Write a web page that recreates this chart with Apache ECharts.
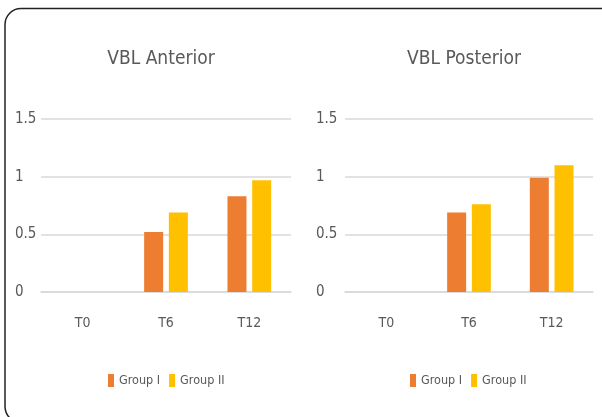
<!DOCTYPE html>
<html>
<head>
<meta charset="utf-8">
<script src="https://cdn.jsdelivr.net/npm/echarts@6/dist/echarts.min.js"></script>
<style>
html,body{margin:0;padding:0;background:#fff;overflow:hidden;}
#chart{width:602px;height:417px;}
</style>
</head>
<body>
<div id="chart"></div>
<script>
const categories = ['T0', 'T6', 'T12'];
const seriesNames = ['Group I', 'Group II'];
const anteriorGroupI = [0, 0.52, 0.83];
const anteriorGroupII = [0, 0.69, 0.97];
const posteriorGroupI = [0, 0.69, 0.99];
const posteriorGroupII = [0, 0.76, 1.10];
const chartTitles = ['VBL Anterior', 'VBL Posterior'];
const yMin = 0, yMax = 1.5, yStep = 0.5;

const FONT = "'DejaVu Sans Condensed', 'Liberation Sans Narrow', sans-serif";
const TXT = '#595959';
const GRIDC = '#D9D9D9';
const ORANGE = '#ED7D31';
const YELLOW = '#FFC000';

const chart = echarts.init(document.getElementById('chart'), null, {renderer: 'canvas'});

function xAx(gi) {
  return {
    type: 'category', gridIndex: gi, data: categories,
    axisLine: {lineStyle: {color: GRIDC, width: 1.5}},
    axisTick: {show: false},
    axisLabel: {color: TXT, fontFamily: FONT, fontSize: 14, margin: 24}
  };
}
function yAx(gi, margin) {
  return {
    type: 'value', gridIndex: gi, min: yMin, max: yMax, interval: yStep,
    axisLine: {show: false}, axisTick: {show: false},
    splitLine: {lineStyle: {color: GRIDC, width: 1.5}},
    axisLabel: {color: TXT, fontFamily: FONT, fontSize: 15, align: 'left', margin: margin}
  };
}
function bar(name, data, color, gi) {
  return {
    name: name, type: 'bar', xAxisIndex: gi, yAxisIndex: gi, data: data,
    barWidth: 19, barGap: '30%',
    itemStyle: {color: color}
  };
}
function legend(left) {
  return {
    data: seriesNames, left: left, top: 374, orient: 'horizontal', padding: 0,
    itemWidth: 6, itemHeight: 13, itemGap: 9,
    icon: 'rect',
    textStyle: {color: TXT, fontFamily: FONT, fontSize: 12.5}
  };
}

chart.setOption({
  backgroundColor: '#fff',
  animation: false,
  color: [ORANGE, YELLOW],
  graphic: [{
    type: 'rect', silent: true,
    shape: {x: 5, y: 8.5, width: 612, height: 414, r: 16},
    style: {fill: 'none', stroke: '#222', lineWidth: 1.5}
  }],
  title: [
    {text: chartTitles[0], left: 156, top: 45, textAlign: 'center',
     textStyle: {color: TXT, fontFamily: FONT, fontSize: 19, fontWeight: 'normal'}},
    {text: chartTitles[1], left: 459, top: 45, textAlign: 'center',
     textStyle: {color: TXT, fontFamily: FONT, fontSize: 19, fontWeight: 'normal'}}
  ],
  legend: [legend(108), legend(410)],
  grid: [
    {left: 41, top: 119, width: 250, height: 173},
    {left: 345, top: 119, width: 248, height: 173}
  ],
  xAxis: [xAx(0), xAx(1)],
  yAxis: [yAx(0, 26), yAx(1, 29)],
  series: [
    bar(seriesNames[0], anteriorGroupI, ORANGE, 0),
    bar(seriesNames[1], anteriorGroupII, YELLOW, 0),
    bar(seriesNames[0], posteriorGroupI, ORANGE, 1),
    bar(seriesNames[1], posteriorGroupII, YELLOW, 1)
  ]
});
</script>
</body>
</html>
